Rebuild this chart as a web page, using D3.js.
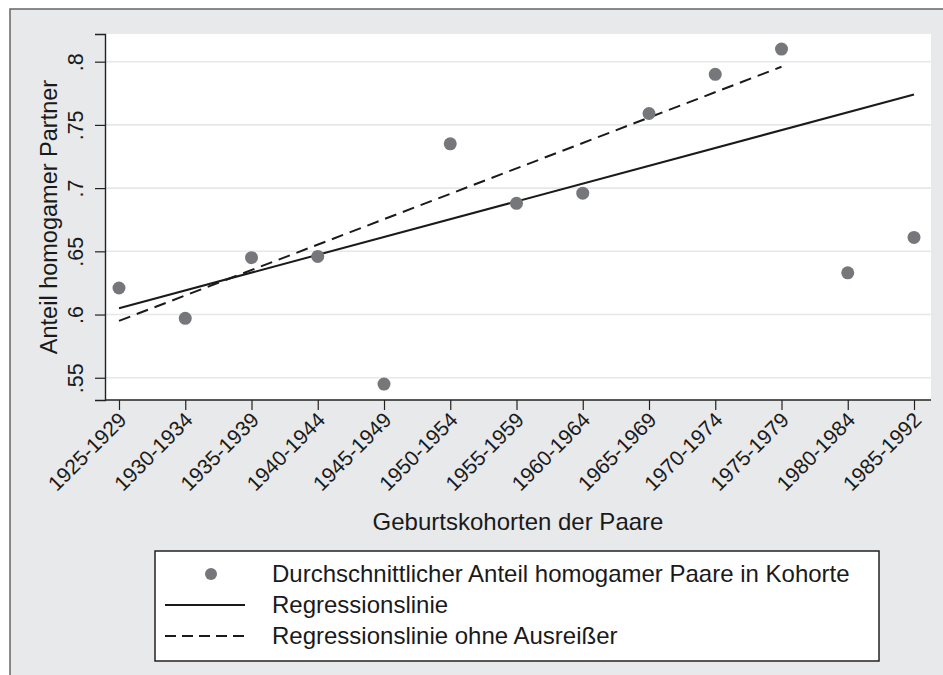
<!DOCTYPE html>
<html>
<head>
<meta charset="utf-8">
<script src="https://cdn.jsdelivr.net/npm/d3@7"></script>
<style>
  body { margin: 0; background: #fff; }
  svg { display: block; font-family: 'Liberation Sans', Arial, sans-serif; }
</style>
</head>
<body>
<svg id="chart"></svg>
<script>
// cohorts and mean share of homogamous couples
const cohorts = ['1925-1929', '1930-1934', '1935-1939', '1940-1944', '1945-1949', '1950-1954',
  '1955-1959', '1960-1964', '1965-1969', '1970-1974', '1975-1979', '1980-1984', '1985-1992'];
const anteil = [0.621, 0.597, 0.645, 0.646, 0.545, 0.735, 0.688, 0.696, 0.759, 0.790, 0.810, 0.633, 0.661];

// regression lines (end points)
const regCohorts = ['1925-1929', '1985-1992'];
const regValues = [0.605, 0.774];
const regOhneCohorts = ['1925-1929', '1975-1979'];
const regOhneValues = [0.595, 0.796];

const yTicks = [0.55, 0.6, 0.65, 0.7, 0.75, 0.8];
const legendLabels = [
  'Durchschnittlicher Anteil homogamer Paare in Kohorte',
  'Regressionslinie',
  'Regressionslinie ohne Ausreißer'
];

const width = 943;
const height = 675;
const margin = { top: 34, left: 105 };
const innerWidth = 826;
const innerHeight = 366;

const svg = d3.select('#chart')
  .attr('width', width)
  .attr('height', height);

// grey outer panel, only top and left border visible like the original
svg.append('rect')
  .attr('x', 10).attr('y', 9)
  .attr('width', width - 10).attr('height', height - 9)
  .attr('fill', '#e8e9eb');
svg.append('path')
  .attr('d', `M10,${height}V9H${width}`)
  .attr('fill', 'none')
  .attr('stroke', '#666').attr('stroke-width', 1.5);

const g = svg.append('g')
  .attr('transform', `translate(${margin.left}, ${margin.top})`);

g.append('rect')
  .attr('width', innerWidth).attr('height', innerHeight)
  .attr('fill', '#fff');

const x = d3.scalePoint().domain(cohorts).range([14, 809]);
const y = d3.scaleLinear().domain([0.5324, 0.8219]).range([innerHeight, 0]);

// grid
g.selectAll('.grid')
  .data(yTicks)
  .enter().append('line')
    .attr('class', 'grid')
    .attr('x1', 0).attr('x2', innerWidth)
    .attr('y1', d => y(d)).attr('y2', d => y(d))
    .attr('stroke', '#e6e7e9').attr('stroke-width', 1.6);

// axes
const yAxis = g.append('g')
  .call(d3.axisLeft(y).tickValues(yTicks).tickSize(10)
    .tickFormat(d => d3.format('.2~f')(d).replace(/^0/, '')));
yAxis.select('.domain').attr('stroke', '#222').attr('stroke-width', 1.4);
yAxis.selectAll('.tick line').attr('stroke', '#222').attr('stroke-width', 1.2);
yAxis.selectAll('.tick text')
  .attr('font-size', 21.5)
  .attr('fill', '#1a1a1a')
  .attr('text-anchor', 'middle')
  .attr('x', null).attr('dy', null)
  .attr('transform', 'translate(-22, 0) rotate(-90)');

const xAxis = g.append('g')
  .attr('transform', `translate(0, ${innerHeight})`)
  .call(d3.axisBottom(x).tickSize(10).tickSizeOuter(0));
xAxis.select('.domain').attr('stroke', '#222').attr('stroke-width', 1.4)
  .attr('d', `M0,0H${innerWidth}`);
xAxis.selectAll('.tick line').attr('stroke', '#222').attr('stroke-width', 1.2);
xAxis.selectAll('.tick text')
  .attr('font-size', 21)
  .attr('fill', '#1a1a1a')
  .attr('text-anchor', 'end')
  .attr('y', null).attr('dy', '0.35em')
  .attr('transform', 'translate(3, 16) rotate(-45)');

// regression lines
const line = d3.line().x(d => x(d[0])).y(d => y(d[1]));
g.append('path')
  .datum(d3.zip(regCohorts, regValues))
  .attr('d', line)
  .attr('fill', 'none').attr('stroke', '#1a1a1a').attr('stroke-width', 2);
g.append('path')
  .datum(d3.zip(regOhneCohorts, regOhneValues))
  .attr('d', line)
  .attr('fill', 'none').attr('stroke', '#1a1a1a').attr('stroke-width', 2)
  .attr('stroke-dasharray', '12,7');

// points
g.selectAll('.dot')
  .data(d3.zip(cohorts, anteil))
  .enter().append('circle')
    .attr('class', 'dot')
    .attr('cx', d => x(d[0]))
    .attr('cy', d => y(d[1]))
    .attr('r', 6.5)
    .attr('fill', '#76777b');

// axis titles
svg.append('text')
  .attr('transform', `translate(57, ${margin.top + innerHeight / 2}) rotate(-90)`)
  .attr('text-anchor', 'middle')
  .attr('font-size', 23.5)
  .attr('fill', '#1a1a1a')
  .text('Anteil homogamer Partner');

svg.append('text')
  .attr('x', margin.left + innerWidth / 2)
  .attr('y', 530)
  .attr('text-anchor', 'middle')
  .attr('font-size', 24)
  .attr('fill', '#1a1a1a')
  .text('Geburtskohorten der Paare');

// legend
const legend = svg.append('g').attr('transform', 'translate(155, 551)');
legend.append('rect')
  .attr('width', 724).attr('height', 110)
  .attr('fill', '#fff')
  .attr('stroke', '#222').attr('stroke-width', 1.5);

legend.append('circle')
  .attr('cx', 56).attr('cy', 23).attr('r', 6)
  .attr('fill', '#76777b');
legend.append('line')
  .attr('x1', 10).attr('x2', 90).attr('y1', 54).attr('y2', 54)
  .attr('stroke', '#1a1a1a').attr('stroke-width', 2);
legend.append('line')
  .attr('x1', 10).attr('x2', 90).attr('y1', 85).attr('y2', 85)
  .attr('stroke', '#1a1a1a').attr('stroke-width', 2)
  .attr('stroke-dasharray', '11,6');

legend.selectAll('.label')
  .data(legendLabels)
  .enter().append('text')
    .attr('class', 'label')
    .attr('x', 117)
    .attr('y', (d, i) => 23 + i * 31)
    .attr('dy', '0.35em')
    .attr('font-size', 24)
    .attr('fill', '#1a1a1a')
    .text(d => d);
</script>
</body>
</html>
